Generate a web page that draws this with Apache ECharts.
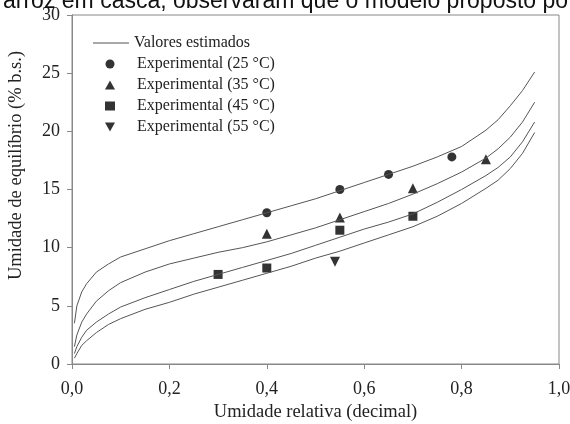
<!DOCTYPE html>
<html>
<head>
<meta charset="utf-8">
<script src="https://cdn.jsdelivr.net/npm/echarts@6/dist/echarts.min.js"></script>
<style>
  html, body { margin: 0; padding: 0; background: #fff; }
  #chart { width: 570px; height: 424px; }
</style>
</head>
<body>
<div id="chart"></div>
<script>
// umidade relativa (decimal) usada nas curvas estimadas
const awCurve = [0.005, 0.01, 0.02, 0.03, 0.05, 0.075, 0.1, 0.15, 0.2, 0.25, 0.3, 0.35, 0.4, 0.45, 0.5, 0.55, 0.6, 0.65, 0.7, 0.75, 0.8, 0.85, 0.875, 0.9, 0.925, 0.95]
// valores estimados (% b.s.) para cada temperatura
const est25 = [3.5, 5.0, 6.2, 6.9, 7.9, 8.6, 9.2, 9.9, 10.6, 11.2, 11.8, 12.4, 13.0, 13.6, 14.2, 14.9, 15.6, 16.3, 17.0, 17.8, 18.7, 20.1, 21.0, 22.2, 23.5, 25.1]
const est35 = [1.5, 2.5, 3.6, 4.3, 5.4, 6.3, 7.0, 7.9, 8.6, 9.1, 9.6, 10.0, 10.5, 11.1, 11.7, 12.4, 13.1, 13.8, 14.6, 15.5, 16.5, 17.7, 18.5, 19.5, 20.8, 22.5]
const est45 = [0.9, 1.5, 2.3, 2.9, 3.6, 4.3, 4.9, 5.7, 6.4, 7.1, 7.7, 8.3, 8.9, 9.5, 10.2, 10.9, 11.6, 12.2, 12.9, 13.9, 15.0, 16.2, 16.9, 17.8, 19.1, 20.8]
const est55 = [0.5, 0.9, 1.6, 2.0, 2.7, 3.4, 3.9, 4.7, 5.3, 6.0, 6.6, 7.2, 7.8, 8.4, 9.1, 9.7, 10.4, 11.1, 11.8, 12.7, 13.8, 15.1, 15.8, 16.8, 18.1, 19.9]

// pontos experimentais
const aw25 = [0.40, 0.55, 0.65, 0.78]
const exp25 = [13.0, 15.0, 16.3, 17.8]
const aw35 = [0.40, 0.55, 0.70, 0.85]
const exp35 = [11.2, 12.6, 15.1, 17.6]
const aw45 = [0.30, 0.40, 0.55, 0.70]
const exp45 = [7.7, 8.25, 11.5, 12.7]
const aw55 = [0.54]
const exp55 = [8.8]

const xTicks = [0, 0.2, 0.4, 0.6, 0.8, 1.0]
const yTicks = [0, 5, 10, 15, 20, 25, 30]

const font = 'Liberation Serif'
const triangleDown = 'path://M0,0 L10,0 L5,9 Z'

function pairs(xs, ys) {
  return xs.map((x, i) => [x, ys[i]])
}

function curve(ys) {
  return {
    name: 'Valores estimados',
    type: 'line',
    data: pairs(awCurve, ys),
    showSymbol: false,
    lineStyle: { color: '#555', width: 1 },
    itemStyle: { color: '#555' },
    silent: true,
  }
}

function points(name, xs, ys, symbol, size) {
  return {
    name,
    type: 'scatter',
    data: pairs(xs, ys),
    symbol,
    symbolSize: size,
    itemStyle: { color: '#000' },
  }
}

const legendText = { fontFamily: font, fontSize: 16, color: '#222', lineHeight: 16 }

const option = {
  animation: false,
  title: {
    text: 'arroz em casca, observaram que o modelo proposto po',
    left: -2,
    top: -15,
    textStyle: { fontFamily: 'Liberation Sans', fontSize: 23, fontWeight: 'normal', color: '#111' },
  },
  grid: {
    left: 72,
    right: 11,
    top: 15,
    bottom: 60,
    outerBoundsMode: 'none',
    show: true,
    borderColor: '#888',
    borderWidth: 1,
  },
  legend: [
    // linha das curvas estimadas
    {
      left: 88,
      top: 30,
      itemWidth: 36,
      itemHeight: 9,
      textStyle: legendText,
      data: [{ name: 'Valores estimados', icon: 'path://M0,0 H36 V1 H0 Z', itemStyle: { color: '#555' } }],
    },
    // simbolos experimentais
    {
      orient: 'vertical',
      left: 105,
      top: 56,
      padding: 0,
      itemWidth: 10,
      itemHeight: 9,
      itemGap: 5,
      textStyle: { ...legendText, padding: [0, 0, 0, 17] },
      data: [
        { name: 'Experimental (25 °C)', icon: 'circle' },
        { name: 'Experimental (35 °C)', icon: 'triangle' },
        { name: 'Experimental (45 °C)', icon: 'rect' },
        { name: 'Experimental (55 °C)', icon: triangleDown },
      ],
    },
  ],
  xAxis: {
    type: 'value',
    min: xTicks[0],
    max: xTicks[xTicks.length - 1],
    interval: 0.2,
    name: 'Umidade relativa (decimal)',
    nameLocation: 'middle',
    nameGap: 39,
    nameTextStyle: { fontFamily: font, fontSize: 18.5, color: '#222' },
    axisLine: { lineStyle: { color: '#888' } },
    axisTick: { inside: false, length: 5, lineStyle: { color: '#888' } },
    axisLabel: {
      margin: 16,
      fontFamily: font,
      fontSize: 18,
      color: '#222',
      formatter: v => v.toFixed(1).replace('.', ','),
    },
    splitLine: { show: false },
  },
  yAxis: {
    type: 'value',
    min: yTicks[0],
    max: yTicks[yTicks.length - 1],
    interval: 5,
    name: 'Umidade de equilíbrio (% b.s.)',
    nameLocation: 'middle',
    nameGap: 46,
    nameTextStyle: { fontFamily: font, fontSize: 18.5, color: '#222', padding: [0, 0, 0, 48] },
    axisLine: { show: true, lineStyle: { color: '#888' } },
    axisTick: { show: true, inside: false, length: 5, lineStyle: { color: '#888' } },
    axisLabel: { margin: 12, fontFamily: font, fontSize: 18, color: '#222' },
    splitLine: { show: false },
  },
  series: [
    curve(est25),
    curve(est35),
    curve(est45),
    curve(est55),
    points('Experimental (25 °C)', aw25, exp25, 'circle', 9),
    points('Experimental (35 °C)', aw35, exp35, 'triangle', 10),
    points('Experimental (45 °C)', aw45, exp45, 'rect', 9),
    points('Experimental (55 °C)', aw55, exp55, triangleDown, 10),
  ],
}

const chart = echarts.init(document.getElementById('chart'))
chart.setOption(option)
</script>
</body>
</html>
